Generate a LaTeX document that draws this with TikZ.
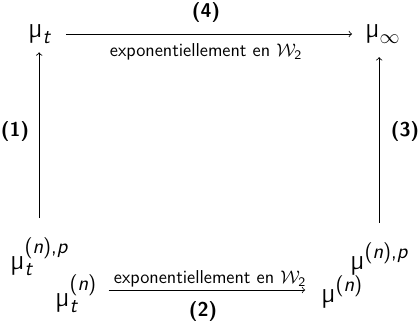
\documentclass[tikz,border=0pt]{standalone}
\usepackage{amsmath}
\renewcommand{\familydefault}{\sfdefault}
\newcommand{\mmu}{\text{\upshape µ}}
\newcommand{\itx}[1]{\text{\itshape #1}}
\begin{document}
\begin{tikzpicture}[x=0.6pt,y=-0.6pt,
  mainn/.style={inner sep=0pt,outer sep=0pt,anchor=base west,font=\fontsize{18}{21}\selectfont},
  numlab/.style={inner sep=0pt,font=\fontsize{12}{14}\selectfont\bfseries},
  expl/.style={inner sep=0pt,font=\fontsize{11.2}{13}\selectfont},
  arr/.style={->,line width=0.5pt}]
\useasboundingbox (0,0) rectangle (420,323);
% main nodes
\node[mainn] (mut) at (28,37) {$\mmu_{\itx{t}}$};
\node[mainn] (muinf) at (365,37) {$\mmu_{\infty}$};
\node[mainn] (mutnp) at (10,269) {$\mmu_{\itx{t}}^{\text{(\itshape n\/\upshape),\itshape p}}$};
\node[mainn] (mutn) at (55,306) {$\mmu_{\itx{t}}^{\text{(\itshape n\/\upshape)}}$};
\node[mainn] (mun) at (321,302) {$\mmu^{\text{(\itshape n\/\upshape)}}$};
\node[mainn] (munp) at (350,269) {$\mmu^{\text{(\itshape n\/\upshape),\itshape p}}$};
% labels
\node[numlab] (l4) at (206,12) {(4)};
\node[expl] (e4) at (206,52) {exponentiellement en $\mathcal{W}_{\text{2}}$};
\node[numlab] (l1) at (15,131) {(1)};
\node[numlab] (l3) at (405,131) {(3)};
\node[expl] (e2) at (210,279) {exponentiellement en $\mathcal{W}_{\text{2}}$};
\node[numlab] (l2) at (203,311) {(2)};
% arrows
\draw[arr,shorten <=9pt,shorten >=7.8pt] (mut.east |- 0,34) -- (muinf.west |- 0,34);
\draw[arr,shorten <=7pt,shorten >=9.5pt] (mutn.east |- 0,290) -- (mun.west |- 0,290);
\draw[arr,shorten <=12pt,shorten >=5pt] (mutnp.north) -- (mutnp.north |- mut.south);
\draw[arr,shorten <=12pt,shorten >=8pt] (munp.north) -- (munp.north |- muinf.south);
\end{tikzpicture}
\end{document}
